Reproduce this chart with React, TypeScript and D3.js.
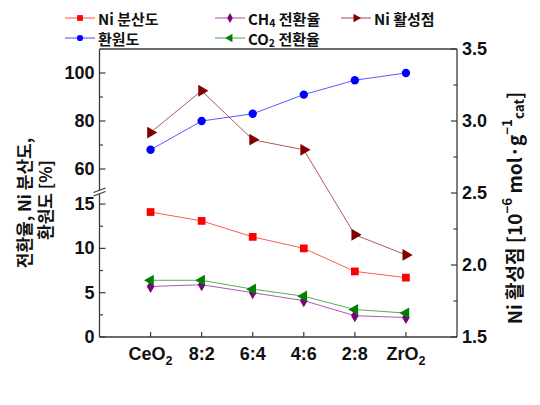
import React from "react";
import * as d3 from "d3";

// categories (Ce:Zr ratio)
const categories = ["CeO2", "8:2", "6:4", "4:6", "2:8", "ZrO2"];

// left axis, upper segment
const reductionDegree = [68, 80, 83, 91, 97, 100];
// left axis, lower segment
const niDispersion = [14.1, 13.1, 11.3, 10.0, 7.4, 6.7];
const co2Conversion = [6.4, 6.4, 5.4, 4.6, 3.1, 2.7];
const ch4Conversion = [5.7, 5.9, 5.0, 4.1, 2.4, 2.2];
// right axis
const niActiveSites = [2.92, 3.21, 2.87, 2.8, 2.21, 2.07];

const upperTicks = [60, 80, 100];
const upperMinor = [70, 90];
const lowerTicks = [0, 5, 10, 15];
const lowerMinor = [2.5, 7.5, 12.5];
const rightTicks = [1.5, 2.0, 2.5, 3.0, 3.5];
const rightMinor = [1.75, 2.25, 2.75, 3.25];

const W = 540;
const H = 405;
const left = 99.5;
const right = 457;
const top = 49;
const bottom = 337;
const breakY = 193;

const axisColor = "#3a3a3a";
const numFont = "'Liberation Sans', Arial, sans-serif";
const krFont = "'Liberation Sans Narrow', 'Noto Sans CJK KR', sans-serif";

const x = d3.scalePoint<string>().domain(categories).range([left, right]).padding(1);
const yUpper = d3.scaleLinear().domain([50, 110]).range([breakY, top]);
const yLower = d3.scaleLinear().domain([0, 16.25]).range([bottom, breakY]);
const yRight = d3.scaleLinear().domain([1.5, 3.5]).range([bottom, top]);

const line = d3.line<[number, number]>();

type Series = {
  name: string;
  values: number[];
  scale: d3.ScaleLinear<number, number>;
  color: string;
  symbol: d3.SymbolType;
  size: number;
  rotate: number;
};

const series: Series[] = [
  { name: "ni", values: niDispersion, scale: yLower, color: "#ff0000", symbol: d3.symbolSquare, size: 60, rotate: 0 },
  { name: "red", values: reductionDegree, scale: yUpper, color: "#0000ff", symbol: d3.symbolCircle, size: 55, rotate: 0 },
  { name: "ch4", values: ch4Conversion, scale: yLower, color: "#800080", symbol: d3.symbolDiamond, size: 50, rotate: 0 },
  { name: "co2", values: co2Conversion, scale: yLower, color: "#008000", symbol: d3.symbolTriangle, size: 55, rotate: -90 },
  { name: "site", values: niActiveSites, scale: yRight, color: "#800000", symbol: d3.symbolTriangle, size: 60, rotate: 90 },
];

const legendItems = [
  { col: 0, row: 0, s: 0, label: <tspan>Ni 분산도</tspan> },
  { col: 0, row: 1, s: 1, label: <tspan>환원도</tspan> },
  { col: 1, row: 0, s: 2, label: <><tspan>CH</tspan><tspan dy={4} fontSize="0.7em">4</tspan><tspan dy={-4}> 전환율</tspan></> },
  { col: 1, row: 1, s: 3, label: <><tspan>CO</tspan><tspan dy={4} fontSize="0.7em">2</tspan><tspan dy={-4}> 전환율</tspan></> },
  { col: 2, row: 0, s: 4, label: <tspan>Ni 활성점</tspan> },
];
const legendCols = [65, 215, 341];
const legendRows = [18, 38];

export default function App() {
  return (
    <svg width={W} height={H} style={{ position: "absolute", left: 0, top: 0, background: "#fff" }}>
      {/* series */}
      {series.map((s) => {
        const pts = s.values.map((v, i) => [x(categories[i])!, s.scale(v)] as [number, number]);
        const sym = d3.symbol(s.symbol, s.size)();
        return (
          <g key={s.name}>
            <path d={line(pts)!} fill="none" stroke={s.color} strokeOpacity={0.65} strokeWidth={1} />
            {pts.map((p, i) => (
              <path key={i} d={sym!} fill={s.color} transform={`translate(${p[0]},${p[1]}) rotate(${s.rotate})`} />
            ))}
          </g>
        );
      })}

      {/* frame */}
      <g stroke={axisColor} strokeWidth={1.3} fill="none">
        <line x1={left} x2={right} y1={top} y2={top} />
        <line x1={left} x2={right} y1={bottom} y2={bottom} />
        <line x1={left} x2={left} y1={top} y2={bottom} />
        <line x1={right} x2={right} y1={top} y2={bottom} />
      </g>

      {/* x ticks */}
      <g stroke={axisColor} strokeWidth={1.2}>
        {categories.map((c) => (
          <line key={c} x1={x(c)} x2={x(c)} y1={bottom} y2={bottom - 5} />
        ))}
      </g>
      <g fontFamily={numFont} fontWeight="bold" fontSize={18} textAnchor="middle" fill="#111">
        {categories.map((c) => (
          <text key={c} x={x(c)} y={360}>
            {c.endsWith("O2") ? (<><tspan>{c.slice(0, -1)}</tspan><tspan dy={5} fontSize="0.7em">2</tspan></>) : c}
          </text>
        ))}
      </g>

      {/* y ticks */}
      <g stroke={axisColor} strokeWidth={1.2}>
        {upperTicks.map((t) => <line key={"u" + t} x1={left} x2={left + 6} y1={yUpper(t)} y2={yUpper(t)} />)}
        {upperMinor.map((t) => <line key={"um" + t} x1={left} x2={left + 3.5} y1={yUpper(t)} y2={yUpper(t)} />)}
        {lowerTicks.map((t) => <line key={"l" + t} x1={left} x2={left + 6} y1={yLower(t)} y2={yLower(t)} />)}
        {lowerMinor.map((t) => <line key={"lm" + t} x1={left} x2={left + 3.5} y1={yLower(t)} y2={yLower(t)} />)}
        {rightTicks.map((t) => <line key={"r" + t} x1={right} x2={right - 6} y1={yRight(t)} y2={yRight(t)} />)}
        {rightMinor.map((t) => <line key={"rm" + t} x1={right} x2={right - 3.5} y1={yRight(t)} y2={yRight(t)} />)}
      </g>
      <g fontFamily={numFont} fontWeight="bold" fontSize={18} fill="#111" dominantBaseline="central">
        {upperTicks.map((t) => <text key={"u" + t} x={left - 5} y={yUpper(t)} textAnchor="end">{t}</text>)}
        {lowerTicks.map((t) => <text key={"l" + t} x={left - 5} y={yLower(t)} textAnchor="end">{t}</text>)}
        {rightTicks.map((t) => <text key={"r" + t} x={right + 5} y={yRight(t)}>{t.toFixed(1)}</text>)}
      </g>

      {/* axis break */}
      <polygon points={`${left - 6},${breakY + 3} ${left + 6},${breakY - 1.5} ${left + 6},${breakY - 5} ${left - 6},${breakY - 0.5}`} fill="#fff" />
      <g stroke={axisColor} strokeWidth={1.1}>
        <line x1={left - 6} y1={breakY + 3} x2={left + 6} y2={breakY - 1.5} />
        <line x1={left - 6} y1={breakY - 0.5} x2={left + 6} y2={breakY - 5} />
      </g>

      {/* axis titles */}
      <g fontFamily={krFont} fontWeight="bold" fill="#111" textAnchor="middle" dominantBaseline="central">
        <text fontSize={17} transform="translate(23,203) rotate(-90)">전환율, Ni 분산도,</text>
        <text fontSize={17} transform="translate(44,200) rotate(-90)">환원도 [%]</text>
        <text fontSize={19} transform="translate(513,208) rotate(-90)">
          <tspan>Ni 활성점 [10</tspan>
          <tspan dy={-7} fontSize="0.7em">−6</tspan>
          <tspan dy={7}> mol·g</tspan>
          <tspan dy={-7} fontSize="0.7em">−1</tspan>
          <tspan dy={12} fontSize="0.7em">cat</tspan>
          <tspan dy={-5}>]</tspan>
        </text>
      </g>

      {/* legend */}
      {legendItems.map((it, k) => {
        const s = series[it.s];
        const lx = legendCols[it.col];
        const ly = legendRows[it.row];
        const sym = d3.symbol(s.symbol, s.size * 0.55)();
        return (
          <g key={k}>
            <line x1={lx} x2={lx + 30} y1={ly} y2={ly} stroke={s.color} strokeOpacity={0.7} strokeWidth={1} />
            <path d={sym!} fill={s.color} transform={`translate(${lx + 15},${ly}) rotate(${s.rotate})`} />
            <text x={lx + 33} y={ly} dominantBaseline="central" fontFamily={krFont} fontWeight="bold" fontSize={15} fill="#111">
              {it.label}
            </text>
          </g>
        );
      })}
    </svg>
  );
}
